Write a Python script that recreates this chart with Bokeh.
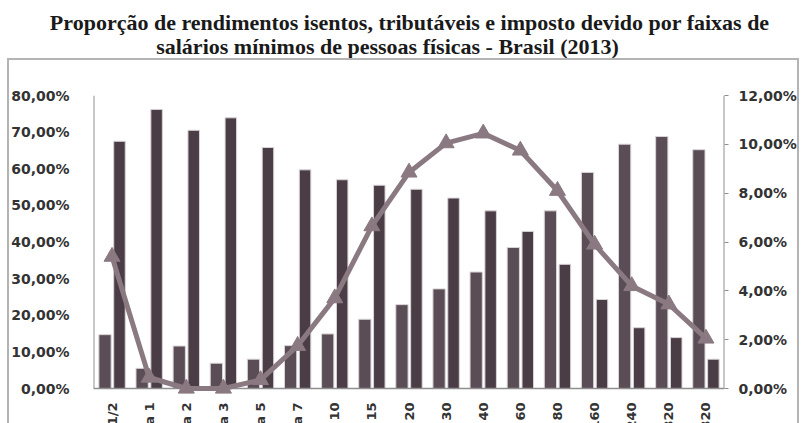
from math import pi
from bokeh.plotting import figure
from bokeh.models import (FactorRange, Range1d, LinearAxis, FixedTicker,
                          ColumnDataSource, InlineStyleSheet, Div)
from bokeh.layouts import column
from bokeh.transform import dodge
from bokeh.core.properties import value
from bokeh.embed import file_html
from bokeh.resources import INLINE

# ---------------- data ----------------
categorias = ["Até 1/2", "1/2 a 1", "1 a 2", "2 a 3", "3 a 5", "5 a 7",
              "7 a 10", "10 a 15", "15 a 20", "20 a 30", "30 a 40",
              "40 a 60", "60 a 80", "80 a 160", "160 a 240", "240 a 320",
              "Mais de 320"]
isentos = [14.7, 5.5, 11.6, 6.9, 8.0, 11.7, 14.9, 18.9, 22.9, 27.2, 31.8,
           38.5, 48.5, 59.0, 66.7, 68.8, 65.2]
tributaveis = [67.5, 76.2, 70.5, 73.9, 65.8, 59.7, 57.0, 55.5, 54.4, 52.0,
               48.5, 42.9, 33.9, 24.3, 16.6, 13.9, 8.0]
imposto = [5.4, 0.45, 0.0, 0.0, 0.35, 1.75, 3.7, 6.65, 8.85, 10.05, 10.45,
           9.75, 8.1, 5.9, 4.2, 3.45, 2.05]
ticks_esq = [0, 10, 20, 30, 40, 50, 60, 70, 80]
ticks_dir = [0, 2, 4, 6, 8, 10, 12]
titulo1 = "Proporção de rendimentos isentos, tributáveis e imposto devido por faixas de"
titulo2 = "salários mínimos de pessoas físicas - Brasil (2013)"


def pct(v):
    return ("%.2f%%" % v).replace(".", ",")


# ---------------- title ----------------
title_html = ('<div style="position:relative; left:8px; white-space:nowrap">%s</div>'
              '<div style="position:relative; left:-14px; white-space:nowrap">%s</div>'
              % (titulo1, titulo2))
tf = Div(text=title_html, width=803, height=58, margin=0,
         styles={"font-family": "'Liberation Serif', serif", "font-weight": "bold",
                 "font-size": "22px", "line-height": "24px", "text-align": "center",
                 "color": "#1a1a1a", "padding-top": "11px", "box-sizing": "border-box"})

# ---------------- chart ----------------
W, H = 792, 365
Y_TOP = 80.0
Y_BOT = -9.556          # room below zero for the category names (cut by the page)
R_TOP = 12.0
p = figure(width=W, height=H, x_range=FactorRange(*categorias),
           y_range=Range1d(Y_BOT, Y_TOP), toolbar_location=None,
           output_backend="svg", min_border_left=86, min_border_right=72,
           min_border_top=37, min_border_bottom=0, x_axis_location=None,
           margin=(0, 0, 0, 7))
p.extra_y_ranges = {"dir": Range1d(Y_BOT * R_TOP / Y_TOP, R_TOP)}
p.outline_line_color = None
p.grid.visible = False
p.x_range.range_padding = 0
p.border_fill_color = None
p.background_fill_color = None
p.stylesheets = [InlineStyleSheet(css=":host { box-shadow: inset 2px 0 0 #b4b4b4, "
                                      "inset -2px 0 0 #b4b4b4, inset 0 2px 0 #b4b4b4; }")]

src = ColumnDataSource(dict(cat=categorias, ise=isentos, tri=tributaveis, imp=imposto,
                            ly=[-3.8] * len(categorias)))

p.vbar(x=dodge("cat", -0.19, range=p.x_range), top="ise", bottom=0, width=0.33,
       source=src, fill_color="#5b4d55", line_color="#d9d4d7", line_width=1)
p.vbar(x=dodge("cat", 0.2, range=p.x_range), top="tri", bottom=0, width=0.31,
       source=src, fill_color="#4b3d45", line_color="#d9d4d7", line_width=1)

# axis lines (stop at zero, as in the original)
n = len(categorias)
p.segment(x0=[0, n, 0], y0=[0, 0, 0], x1=[0, n, n], y1=[Y_TOP, Y_TOP, 0],
          line_color="#8f8f8f", line_width=[2, 2, 1.5])

p.line(x="cat", y="imp", source=src, y_range_name="dir", line_color="#8b7981",
       line_width=5, line_join="round")
p.scatter(x="cat", y="imp", source=src, y_range_name="dir", marker="triangle",
          size=16, fill_color="#8b7981", line_color="#8b7981")

lab_font = "DejaVu Sans"
p.text(x="cat", y="ly", text="cat", source=src, angle=pi / 2,
       text_align="right", text_baseline="middle", text_font=value(lab_font),
       text_font_style="bold", text_font_size="13px", text_color="#333333")


def style_axis(ax):
    ax.axis_line_color = None
    ax.minor_tick_line_color = None
    ax.major_label_text_font = lab_font
    ax.major_label_text_font_style = "bold"
    ax.major_label_text_font_size = "14px"
    ax.major_label_text_color = "#333333"


ya = p.yaxis[0]
style_axis(ya)
ya.ticker = FixedTicker(ticks=ticks_esq)
ya.major_label_overrides = {t: pct(t) for t in ticks_esq}
ya.major_tick_line_color = None
ya.major_label_standoff = 18

ra = LinearAxis(y_range_name="dir", ticker=FixedTicker(ticks=ticks_dir))
style_axis(ra)
ra.major_label_overrides = {t: pct(t) for t in ticks_dir}
ra.major_tick_line_color = "#8f8f8f"
ra.major_tick_out = 4
ra.major_tick_in = 0
ra.major_label_standoff = 10
p.add_layout(ra, "right")

layout = column(tf, p)
open("out.html", "w").write(file_html(layout, INLINE))
